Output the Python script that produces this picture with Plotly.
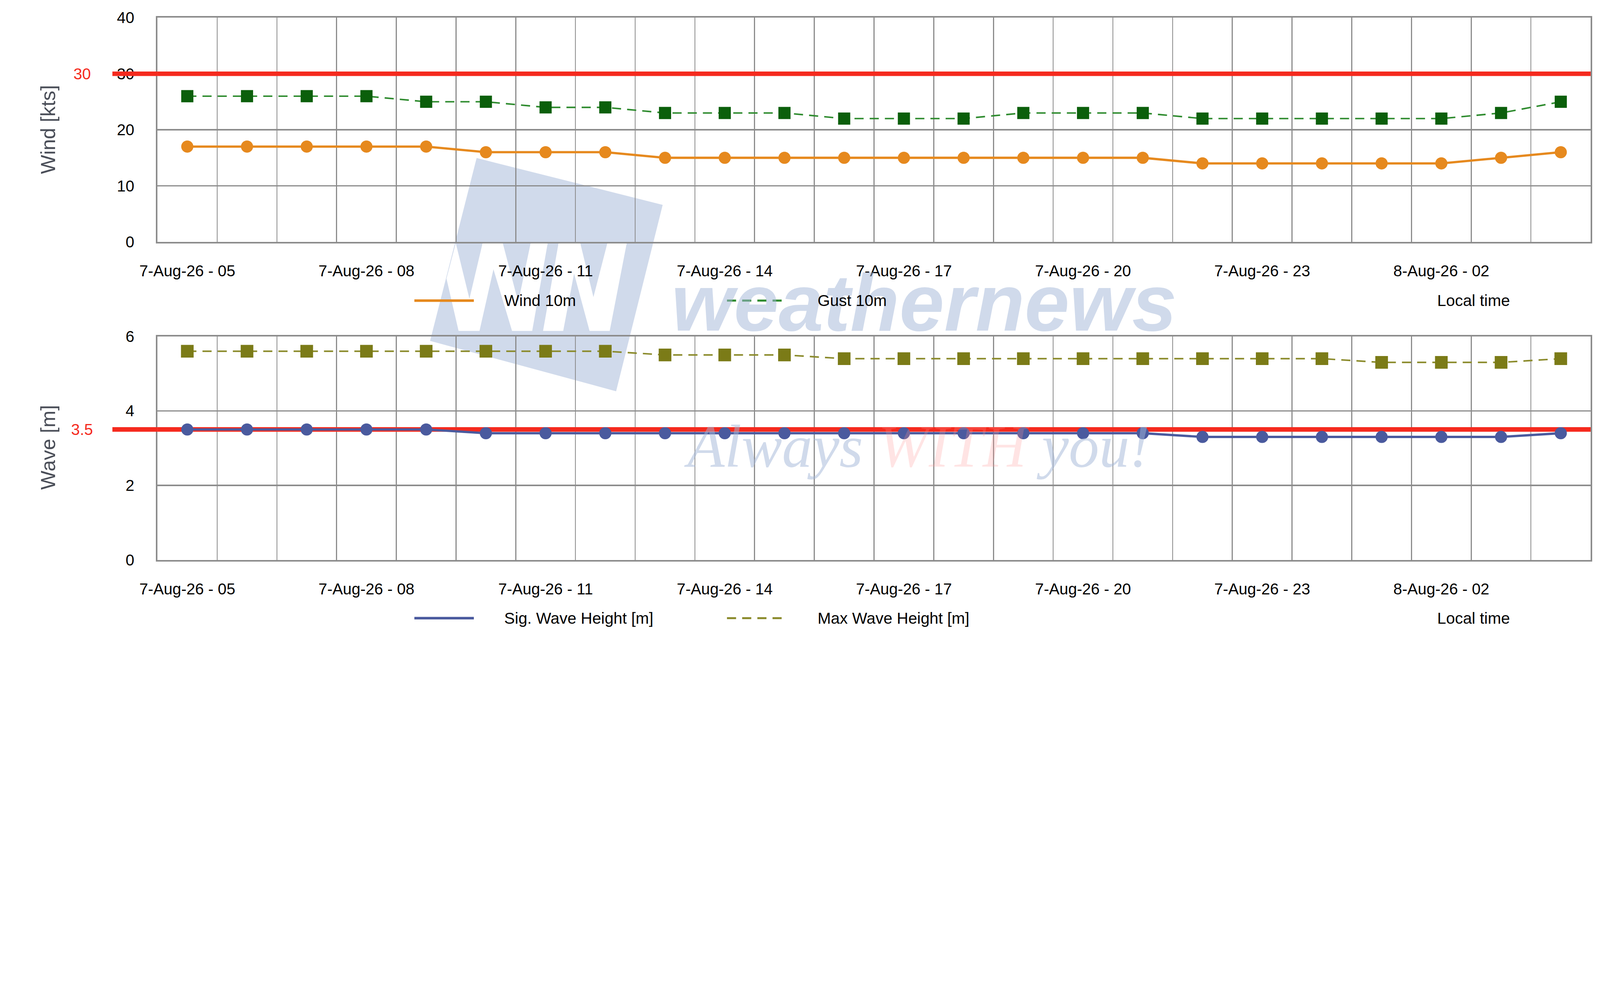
import plotly.graph_objects as go

# hourly forecast steps (local time)
times = ["7-Aug-26 - 05", "7-Aug-26 - 06", "7-Aug-26 - 07", "7-Aug-26 - 08",
         "7-Aug-26 - 09", "7-Aug-26 - 10", "7-Aug-26 - 11", "7-Aug-26 - 12",
         "7-Aug-26 - 13", "7-Aug-26 - 14", "7-Aug-26 - 15", "7-Aug-26 - 16",
         "7-Aug-26 - 17", "7-Aug-26 - 18", "7-Aug-26 - 19", "7-Aug-26 - 20",
         "7-Aug-26 - 21", "7-Aug-26 - 22", "7-Aug-26 - 23", "8-Aug-26 - 00",
         "8-Aug-26 - 01", "8-Aug-26 - 02", "8-Aug-26 - 03", "8-Aug-26 - 04"]
label_step = 3

wind = [17, 17, 17, 17, 17, 16, 16, 16, 15, 15, 15, 15,
        15, 15, 15, 15, 15, 14, 14, 14, 14, 14, 15, 16]
gust = [26, 26, 26, 26, 25, 25, 24, 24, 23, 23, 23, 22,
        22, 22, 23, 23, 23, 22, 22, 22, 22, 22, 23, 25]
sig_wave = [3.5, 3.5, 3.5, 3.5, 3.5, 3.4, 3.4, 3.4, 3.4, 3.4, 3.4, 3.4,
            3.4, 3.4, 3.4, 3.4, 3.4, 3.3, 3.3, 3.3, 3.3, 3.3, 3.3, 3.4]
max_wave = [5.6, 5.6, 5.6, 5.6, 5.6, 5.6, 5.6, 5.6, 5.5, 5.5, 5.5, 5.4,
            5.4, 5.4, 5.4, 5.4, 5.4, 5.4, 5.4, 5.4, 5.3, 5.3, 5.3, 5.4]

wind_limit = 30
wave_limit = 3.5

# page / plot area in pixels
W, H = 6321, 2523
L, R, T, B = 622, 6284, 70, 2211


def px(x):
    return (x - L) / (R - L)


def py(y):
    return (B - y) / (B - T)


GRID = "#8c8c8c"
RED = "#f52a1e"
FONT = "Liberation Sans, Arial, sans-serif"

x = list(range(len(times)))
edges = [-0.5, len(times) - 0.5]
tick_idx = x[::label_step]

fig = go.Figure()

# limit lines first so the series sit on top
fig.add_trace(go.Scatter(x=edges, y=[wind_limit] * 2, mode="lines",
                         line=dict(color=RED, width=18), hoverinfo="skip",
                         showlegend=False, xaxis="x", yaxis="y"))
fig.add_trace(go.Scatter(x=x, y=wind, mode="lines+markers", name="Wind 10m",
                         line=dict(color="#e6891e", width=9),
                         marker=dict(symbol="circle", size=48, color="#e6891e"),
                         showlegend=False, xaxis="x", yaxis="y"))
fig.add_trace(go.Scatter(x=x, y=gust, mode="lines+markers", name="Gust 10m",
                         line=dict(color="#2e8b2e", width=6, dash="36px,24px"),
                         marker=dict(symbol="square", size=48, color="#0b5f0b"),
                         showlegend=False, xaxis="x", yaxis="y"))

fig.add_trace(go.Scatter(x=edges, y=[wave_limit] * 2, mode="lines",
                         line=dict(color=RED, width=18), hoverinfo="skip",
                         showlegend=False, xaxis="x2", yaxis="y2"))
fig.add_trace(go.Scatter(x=x, y=sig_wave, mode="lines+markers", name="Sig. Wave Height [m]",
                         line=dict(color="#4a5a9e", width=9),
                         marker=dict(symbol="circle", size=48, color="#4a5a9e"),
                         showlegend=False, xaxis="x2", yaxis="y2"))
fig.add_trace(go.Scatter(x=x, y=max_wave, mode="lines+markers", name="Max Wave Height [m]",
                         line=dict(color="#8a8a2a", width=6, dash="36px,24px"),
                         marker=dict(symbol="square", size=50, color="#7b7b17"),
                         showlegend=False, xaxis="x2", yaxis="y2"))


def xaxis_style(anchor):
    return dict(anchor=anchor, domain=[0, 1], range=edges,
                tickmode="array", tickvals=tick_idx,
                ticktext=[times[i] for i in tick_idx],
                ticks="", ticklabelstandoff=56,
                tickfont=dict(family=FONT, size=62, color="black"),
                showgrid=False, zeroline=False,
                showline=True, linecolor=GRID, linewidth=6, mirror=True,
                minor=dict(tickmode="array", tickvals=[i - 0.5 for i in range(len(times) + 1)],
                           showgrid=True, gridcolor=GRID, gridwidth=4, ticks=""))


def yaxis_style(anchor, domain, rng, dtick):
    return dict(anchor=anchor, domain=domain, range=rng, dtick=dtick,
                ticks="", ticklabelstandoff=73,
                tickfont=dict(family=FONT, size=62, color="black"),
                showgrid=True, gridcolor=GRID, gridwidth=5, zeroline=False,
                showline=True, linecolor=GRID, linewidth=6, mirror=True)


# watermark logo: slanted block with the "WN" strokes cut out between the panels
def z11(zx, zy):
    return (1680 + zx / 1.633, 940 + zy / 3.0)


quad = [(1883, 624), (2618, 809), (2434, 1545), (1699, 1346)]
w_hole = [z11(*p) for p in [(197, 60), (285, 720), (370, 60), (500, 60), (600, 760), (680, 60),
                            (790, 60), (690, 1100), (560, 1100), (440, 370), (350, 1100),
                            (215, 1100), (137, 480)]][::-1]
n_hole = [z11(*p) for p in [(860, 60), (1000, 60), (1085, 700), (1175, 60), (1300, 60),
                            (1190, 1100), (1060, 1100), (960, 420), (890, 1100),
                            (760, 1100)]][::-1]


def sub_path(pts):
    return "M " + " L ".join("%.5f,%.5f" % (px(a), py(b)) for a, b in pts) + " Z"


shapes = [
    dict(type="path", xref="paper", yref="paper", layer="below",
         path=sub_path(quad) + " " + sub_path(w_hole) + " " + sub_path(n_hole),
         fillcolor="#d0daeb", line=dict(width=0)),
    # limit line stubs reaching out over the tick labels
    dict(type="line", xref="paper", yref="y", x0=px(444), x1=0, y0=wind_limit, y1=wind_limit,
         line=dict(color=RED, width=18), layer="above"),
    dict(type="line", xref="paper", yref="y2", x0=px(444), x1=0, y0=wave_limit, y1=wave_limit,
         line=dict(color=RED, width=18), layer="above"),
]

# hand-made legends (Excel-like layout)
legend_rows = [
    (1187, [("Wind 10m", "#e6891e", "solid", 10), ("Gust 10m", "#2e8b2e", "36px,24px", 8)]),
    (2441, [("Sig. Wave Height [m]", "#4a5a9e", "solid", 10),
            ("Max Wave Height [m]", "#8a8a2a", "36px,24px", 8)]),
]
sample_x = [(1637, 1872, 1990), (2872, 3110, 3228)]

annotations = [
    dict(text="<b><i>weathernews</i></b>", xref="paper", yref="paper",
         x=px(2650), y=py(1195), xanchor="left", yanchor="middle", showarrow=False,
         font=dict(family=FONT, size=318, color="rgba(161,181,215,0.5)")),
    dict(text="<i>Always <span style='color:rgba(255,149,149,0.5)'>WITH</span> you!</i>",
         xref="paper", yref="paper", x=px(2700), y=py(1762), xanchor="left", yanchor="middle",
         showarrow=False,
         font=dict(family="Liberation Serif, Times New Roman, serif", size=240,
                   color="rgba(161,181,215,0.5)")),
    dict(text="Wind [kts]", xref="paper", yref="paper", x=px(189), y=py(512),
         xanchor="center", yanchor="middle", textangle=-90, showarrow=False,
         font=dict(family=FONT, size=80, color="#4a4e58")),
    dict(text="Wave [m]", xref="paper", yref="paper", x=px(189), y=py(1767),
         xanchor="center", yanchor="middle", textangle=-90, showarrow=False,
         font=dict(family=FONT, size=80, color="#4a4e58")),
    dict(text=str(wind_limit), xref="paper", yref="y", x=px(324), y=wind_limit,
         xanchor="center", yanchor="middle", showarrow=False,
         font=dict(family=FONT, size=62, color=RED)),
    dict(text=str(wave_limit), xref="paper", yref="y2", x=px(324), y=wave_limit,
         xanchor="center", yanchor="middle", showarrow=False,
         font=dict(family=FONT, size=62, color=RED)),
]

for ypix, entries in legend_rows:
    for (name, color, dash, lw), (xa, xb, xt) in zip(entries, sample_x):
        shapes.append(dict(type="line", xref="paper", yref="paper", layer="above",
                           x0=px(xa), x1=px(xb), y0=py(ypix), y1=py(ypix),
                           line=dict(color=color, width=lw, dash=dash)))
        annotations.append(dict(text=name, xref="paper", yref="paper", x=px(xt), y=py(ypix),
                                xanchor="left", yanchor="middle", showarrow=False,
                                font=dict(family=FONT, size=63, color="black")))
    annotations.append(dict(text="Local time", xref="paper", yref="paper", x=px(5676),
                            y=py(ypix), xanchor="left", yanchor="middle", showarrow=False,
                            font=dict(family=FONT, size=63, color="black")))

fig.update_layout(
    width=W, height=H,
    margin=dict(l=L, r=W - R, t=T, b=H - B, pad=0),
    paper_bgcolor="white", plot_bgcolor="rgba(0,0,0,0)",
    font=dict(family=FONT, size=62, color="black"),
    xaxis=xaxis_style("y"),
    xaxis2=xaxis_style("y2"),
    yaxis=yaxis_style("x", [py(955), 1], [0, 40], 10),
    yaxis2=yaxis_style("x2", [0, py(1328)], [0, 6], 2),
    shapes=shapes,
    annotations=annotations,
    showlegend=False,
)

# shrink the whole page to the window if the window is smaller than the figure
fit_js = """
var gd = document.getElementById('{plot_id}');
document.documentElement.style.overflow = 'hidden';
document.body.style.margin = '0';
document.body.style.overflow = 'hidden';
var s = Math.min(1, window.innerWidth / %d, window.innerHeight / %d);
if (s < 1) {
    gd.style.transformOrigin = '0 0';
    gd.style.transform = 'scale(' + s + ')';
}
""" % (W, H)

fig.write_html("out.html", post_script=fit_js, config={"displayModeBar": False})
